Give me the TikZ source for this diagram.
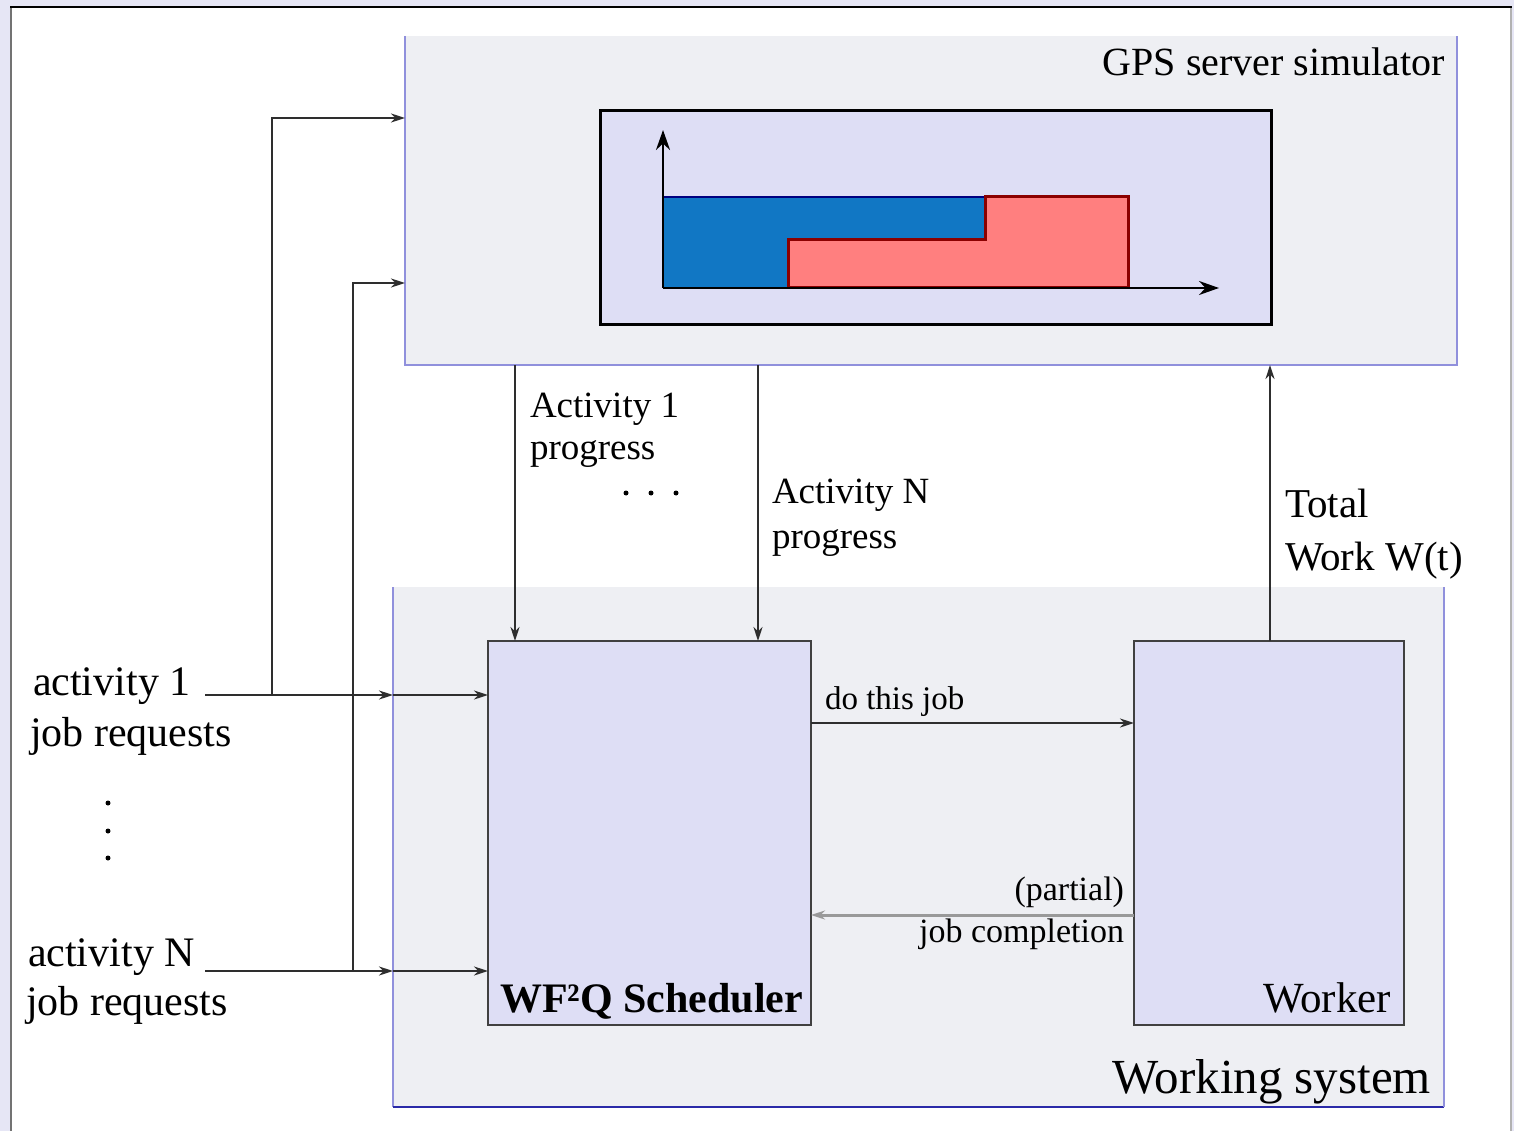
\documentclass[tikz,border=0pt]{standalone}
\usepackage{fontspec}
\setmainfont{Liberation Serif}
\usetikzlibrary{arrows.meta,calc}

\definecolor{pagebg}{HTML}{E6E6F5}
\definecolor{panelbg}{HTML}{EEEFF3}
\definecolor{boxbg}{HTML}{DEDEF5}
\definecolor{frameblue}{HTML}{9090DC}
\definecolor{deepblue}{HTML}{2A2AA8}
\definecolor{barblue}{HTML}{1177C4}
\definecolor{barnavy}{HTML}{000080}
\definecolor{barred}{HTML}{FF7F7F}
\definecolor{bardark}{HTML}{8B0000}

\newcommand\fsz[1]{\fontsize{#1}{#1}\selectfont}

\tikzset{
  panel/.style={fill=panelbg, draw=none, inner sep=0pt, outer sep=0pt, anchor=north west},
  frameline/.style={draw=frameblue, line width=2.5pt},
  unitbox/.style={fill=boxbg, draw=black!75, line width=2.5pt, inner sep=0pt, outer sep=0pt, anchor=north west},
  conn/.style={draw=black!82, line width=2.2pt},
  connlight/.style={draw=black!40, line width=3pt},
  tip/.style={-{Stealth[length=14pt,width=9pt]}},
  axistip/.style={-{Stealth[length=20pt,width=14pt]}},
  lbl/.style={inner sep=0pt, outer sep=0pt, text=black},
  dotmark/.style={fill=black, draw=none, circle, inner sep=0pt, minimum size=5pt},
}

\begin{document}
\begin{tikzpicture}[x=1pt, y=-1pt]
  \useasboundingbox (0,0) rectangle (1514,1131);

  % page surround and white sheet
  \fill[pagebg] (0,0) rectangle (1514,1131);
  \fill[white] (11,7) rectangle (1511,1131);
  \draw[black!55, line width=2pt] (11,7) -- (11,1131);
  \draw[black!30, line width=1.5pt] (1511,7) -- (1511,1131);
  \draw[black, line width=2.5pt] (10,7) -- (1512,7);

  % GPS server simulator panel
  \node[panel, minimum width=1052pt, minimum height=329pt] (gps) at (405,36) {};
  \draw[frameline] (gps.north west) -- (gps.south west) -- (gps.south east) -- (gps.north east);
  \node[lbl, anchor=base east, font=\fsz{40}] (gpslbl) at (1445,76) {GPS server simulator};

  % Working system panel
  \node[panel, minimum width=1051pt, minimum height=520pt] (ws) at (393,587) {};
  \draw[frameline] (ws.north west) -- (ws.south west);
  \draw[draw=deepblue, line width=2.5pt] (ws.south west) -- (ws.south east);
  \draw[frameline] (ws.south east) -- (ws.north east);
  \node[lbl, anchor=base east, font=\fsz{49}] (wslbl) at (1431,1093) {Working system};

  % chart inside the simulator
  \node[unitbox, draw=black, line width=3pt, minimum width=671pt, minimum height=214pt] (chart) at (600,111) {};
  \fill[barblue] (663,197) rectangle (985,288);
  \draw[barnavy, line width=2.5pt] (663,197) -- (985,197);
  \filldraw[fill=barred, draw=bardark, line width=3pt]
    (788,288) -- (788,240) -- (985,240) -- (985,197) -- (1128,197) -- (1128,288) -- cycle;
  \coordinate (origin) at (663,288);
  \draw[black, line width=2.5pt, axistip] (origin) -- (663,130);
  \draw[black, line width=2pt, axistip] (origin) -- (1219,288);

  % scheduler and worker
  \node[unitbox, minimum width=323pt, minimum height=384pt] (sched) at (488,641) {};
  \node[unitbox, minimum width=270pt, minimum height=384pt] (worker) at (1134,641) {};
  \node[lbl, anchor=base west, font=\fsz{42}\bfseries] (schedlbl) at (500,1012) {WF²Q Scheduler};
  \node[lbl, anchor=base east, font=\fsz{43}] (workerlbl) at (1391,1012) {Worker};

  % progress reports from the simulator to the scheduler
  \coordinate (p1) at ([xshift=27pt]sched.north west);
  \coordinate (pN) at ([xshift=270pt]sched.north west);
  \draw[conn, tip] (gps.south -| p1) -- (p1);
  \draw[conn, tip] (gps.south -| pN) -- (pN);
  \node[lbl, anchor=base west, font=\fsz{37}] (a1a) at (530,417) {Activity 1};
  \node[lbl, anchor=base west, font=\fsz{37}] (a1b) at (530,459) {progress};
  \node[dotmark] (hd1) at (626,493) {};
  \node[dotmark] (hd2) at (651,493) {};
  \node[dotmark] (hd3) at (676,493) {};
  \node[lbl, anchor=base west, font=\fsz{37}] (aNa) at (772,503) {Activity N};
  \node[lbl, anchor=base west, font=\fsz{37}] (aNb) at (772,548) {progress};

  % total work back to the simulator
  \coordinate (pw) at ([xshift=136pt]worker.north west);
  \draw[conn, tip] (pw) -- (gps.south -| pw);
  \node[lbl, anchor=base west, font=\fsz{41}] (twa) at (1285,517) {Total};
  \node[lbl, anchor=base west, font=\fsz{41}] (twb) at (1285,570) {Work W(t)};

  % scheduler <-> worker
  \coordinate (dj) at ([yshift=-82pt]sched.north east);
  \draw[conn, tip] (dj) -- (worker.west |- dj);
  \node[lbl, anchor=base west, font=\fsz{33}] (djlbl) at (825,709) {do this job};
  \coordinate (pc) at ([yshift=-274pt]worker.north west);
  \draw[connlight, tip] (pc) -- (sched.east |- pc);
  \node[lbl, anchor=base east, font=\fsz{34}] (pca) at (1124,900) {(partial)};
  \node[lbl, anchor=base east, font=\fsz{34}] (pcb) at (1124,942) {job completion};

  % job request inputs
  \node[lbl, anchor=base west, font=\fsz{42}] (r1a) at (33,695) {activity 1};
  \node[lbl, anchor=base west, font=\fsz{42}] (r1b) at (30,746) {job requests};
  \node[lbl, anchor=base west, font=\fsz{42}] (rNa) at (28,966) {activity N};
  \node[lbl, anchor=base west, font=\fsz{42}] (rNb) at (26,1015) {job requests};
  \node[dotmark] (vd1) at (108,803) {};
  \node[dotmark] (vd2) at (108,831) {};
  \node[dotmark] (vd3) at (108,858) {};

  \coordinate (in1) at (205,695);
  \coordinate (inN) at (205,971);
  \coordinate (up1) at (272,118);
  \coordinate (upN) at (353,283);

  \draw[conn, tip] (in1) -- (ws.west |- in1);
  \draw[conn, tip] (ws.west |- in1) -- (sched.west |- in1);
  \draw[conn, tip] (in1 -| up1) -- (up1) -- (gps.west |- up1);

  \draw[conn, tip] (inN) -- (ws.west |- inN);
  \draw[conn, tip] (ws.west |- inN) -- (sched.west |- inN);
  \draw[conn, tip] (inN -| upN) -- (upN) -- (gps.west |- upN);
\end{tikzpicture}
\end{document}
